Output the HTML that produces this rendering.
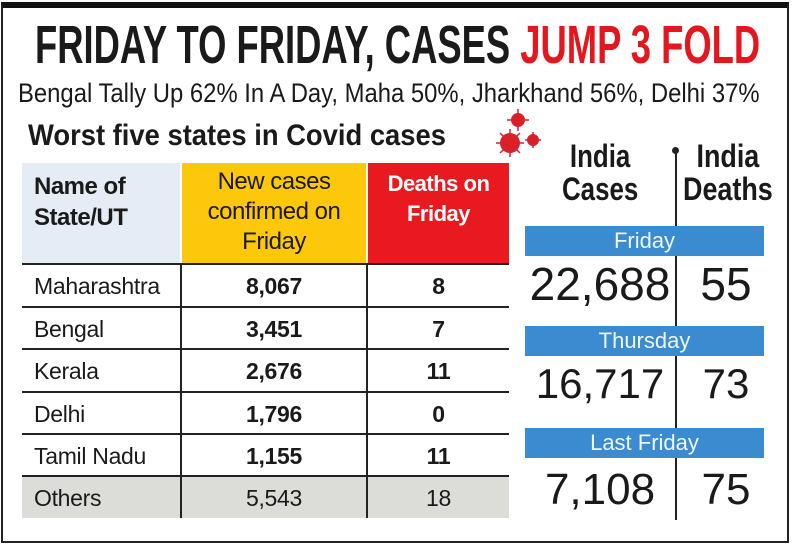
<!DOCTYPE html>
<html><head><meta charset="utf-8"><style>
*{margin:0;padding:0;box-sizing:border-box}
body{width:796px;height:549px;background:#fff;position:relative;overflow:hidden;font-family:"Liberation Sans",sans-serif;color:#1a1a1a}
.a{position:absolute}
.fit{white-space:nowrap;transform-origin:0 0}
.frame{left:1px;top:2px;width:788px;height:541px;border:2px solid #222;border-top:6px solid #111}
.title{top:16px;font-weight:bold;font-size:54px;line-height:58px}
.sub{top:77px;font-size:27px;line-height:32px}
.ws{top:118px;font-size:30px;font-weight:bold;line-height:36px}
.hd{top:163px;height:100px;font-size:24px;line-height:30px}
.rowl{left:22px;width:487px;height:2px;background:#222}
.vl{width:2px;background:#222}
.bar{left:525px;width:239px;height:30px;background:#3a8bd0;color:#eef6ff;font-size:22px;text-align:center;line-height:30px}
.big{font-size:46px;text-align:center}
.il{font-weight:bold;font-size:32px;line-height:33px;text-align:center}
</style></head><body>
<div class="a frame"></div>
<div class="a fit title" data-fit="35,725">FRIDAY TO FRIDAY, CASES <span style="color:#e4161e">JUMP 3 FOLD</span></div>
<div class="a fit sub" data-fit="18,742">Bengal Tally Up 62% In A Day, Maha 50%, Jharkhand 56%, Delhi 37%</div>
<div class="a fit ws" data-fit="28,418">Worst five states in Covid cases</div>
<svg class="a" style="left:488px;top:105px" width="60" height="60">
<g fill="#d9212a"><circle cx="30" cy="15" r="7"/><circle cx="22" cy="38" r="10"/><circle cx="45" cy="35" r="6"/></g>
<g stroke="#d9212a" stroke-width="1.5"><line x1="30" y1="4" x2="30" y2="26"/><line x1="19" y1="15" x2="41" y2="15"/><line x1="22" y1="24" x2="22" y2="52"/><line x1="8" y1="38" x2="36" y2="38"/><line x1="12" y1="28" x2="32" y2="48"/><line x1="32" y1="28" x2="12" y2="48"/><line x1="45" y1="27" x2="45" y2="43"/><line x1="37" y1="35" x2="53" y2="35"/></g></svg>

<div class="a hd" style="left:22px;width:158px;background:#e6ecf5;font-weight:bold;padding:8px 0 0 12px;font-size:24px;line-height:31px;letter-spacing:-0.5px">Name of<br>State/UT</div>
<div class="a hd" style="left:182px;width:184px;background:#fdc70a;text-align:center;padding-top:4px;letter-spacing:-0.5px">New cases<br>confirmed on<br>Friday</div>
<div class="a hd" style="left:368px;width:141px;background:#e8191f;color:#fff;text-align:center;font-weight:bold;padding-top:6px;font-size:22px;letter-spacing:-0.5px">Deaths on<br>Friday</div>

<div class="a" style="left:22px;top:475px;width:487px;height:43px;background:#dcdcd8"></div>
<div class="a vl" style="left:180px;top:263px;height:255px"></div>
<div class="a vl" style="left:366px;top:263px;height:255px"></div>
<div id="rows"></div>

<div class="a fit il" data-fit="562,76" style="top:140px">India<br>Cases</div>
<div class="a fit il" data-fit="683,90" style="top:140px">India<br>Deaths</div>
<div class="a vl" style="left:675px;top:150px;height:370px"></div>
<div class="a" style="left:672px;top:147px;width:7px;height:7px;border-radius:50%;background:#222"></div>

<div class="a bar" style="top:226px">Friday</div>
<div class="a big" style="left:525px;width:150px;top:257px">22,688</div>
<div class="a big" style="left:677px;width:98px;top:257px">55</div>
<div class="a bar" style="top:326px">Thursday</div>
<div class="a big" style="left:525px;width:150px;top:360px;font-size:42px">16,717</div>
<div class="a big" style="left:677px;width:98px;top:360px;font-size:42px">73</div>
<div class="a bar" style="top:428px">Last Friday</div>
<div class="a big" style="left:525px;width:150px;top:465px;font-size:44px">7,108</div>
<div class="a big" style="left:677px;width:98px;top:465px;font-size:44px">75</div>

<script>
const states=["Maharashtra","Bengal","Kerala","Delhi","Tamil Nadu","Others"];
const cases=["8,067","3,451","2,676","1,796","1,155","5,543"];
const deaths=["8","7","11","0","11","18"];
const tops=[263,306,348,391,433,475];
const host=document.getElementById('rows');
states.forEach((s,i)=>{
  const y=tops[i];
  const ln=document.createElement('div');ln.className='a rowl';ln.style.top=y+'px';
  
  
  host.appendChild(ln);
  const bold=i<5?'bold':'normal';
  const mk=(txt,left,w,align,name,fw)=>{
    const d=document.createElement('div');d.className='a';
    d.style.cssText=`left:${left}px;width:${w}px;top:${y+5}px;height:36px;line-height:36px;font-size:23px;text-align:${align};font-weight:${fw};letter-spacing:-0.3px`;
    d.textContent=txt;
    
    
    host.appendChild(d);
  };
  mk(s,34,146,'left','state-name','normal');
  mk(cases[i],182,184,'center','new-cases-value',bold);
  mk(deaths[i],368,141,'center','deaths-value',bold);
});
document.querySelectorAll('[data-fit]').forEach(el=>{
  const [x,w]=el.getAttribute('data-fit').split(',').map(Number);
  el.style.left=x+'px';
  const cw=el.scrollWidth;
  el.style.transform='scaleX('+(w/cw)+')';
});
</script>
</body></html>
